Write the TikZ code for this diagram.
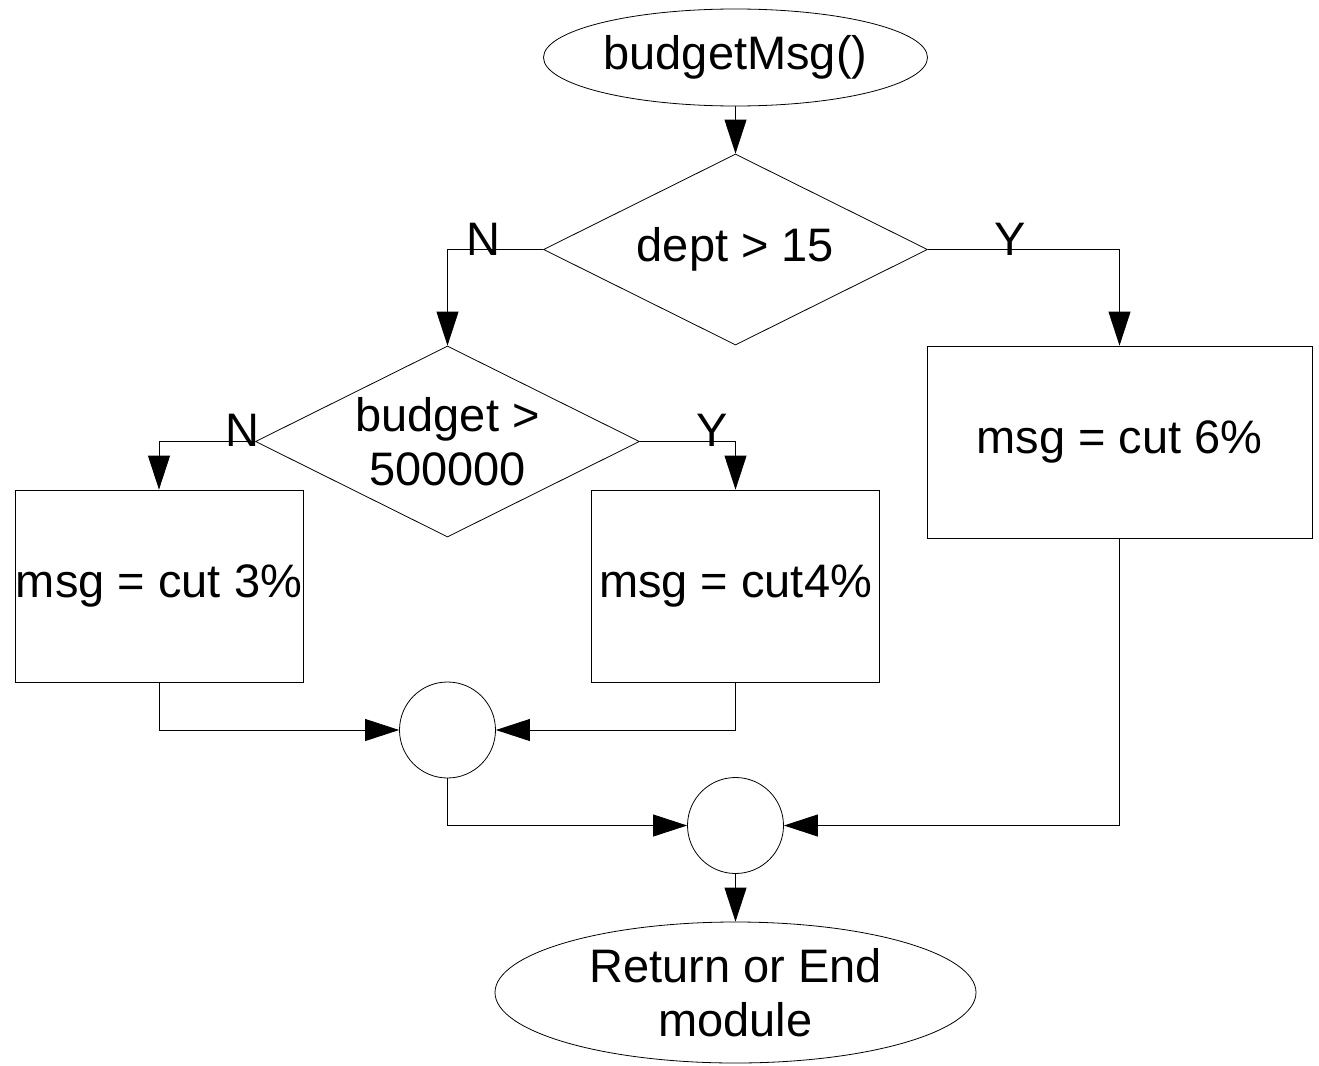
\documentclass[tikz,border=0pt]{standalone}
\usepackage{fontspec}
\setmainfont{Liberation Sans}
\usepackage{tikz}
\usetikzlibrary{arrows.meta,shapes}
\tikzstyle{terminal}=[ellipse,draw,line width=0.8pt,inner sep=0pt,align=center]
\tikzstyle{decision}=[diamond,draw,line width=0.8pt,aspect=2,minimum width=384pt,minimum height=191pt,inner sep=0pt,align=center]
\tikzstyle{process}=[rectangle,draw,line width=0.8pt,minimum width=288pt,minimum height=192pt,inner sep=0pt]
\tikzstyle{connector}=[circle,draw,line width=0.8pt,minimum size=96pt,inner sep=0pt]
\tikzstyle{branch}=[inner sep=0pt,anchor=base]
\tikzstyle{flow} = [draw,line width=0.8pt,-{Triangle[length=34pt,width=22pt]}]

\begin{document}
\begin{tikzpicture}[x=1pt,y=-1pt,font=\fontsize{47}{54}\selectfont]
    \useasboundingbox (0,0) rectangle (1319,1065);
    % First the start and the end of the module
    \node[terminal,minimum width=384pt,minimum height=97pt] (start) at (735.5,57.5) {budgetMsg()};
    \node[terminal,minimum width=481pt,minimum height=141pt] (stop) at (735.5,992.5) {Return or End\\module};
    % the two tests
    \node[decision] (dept) at (735.5,249.5) {dept > 15};
    \node[decision] (budget) at (447.5,441.5) {budget >\\500000};
    % the three messages
    \foreach \pos/\name/\txt in {{(159,586)/cut3/msg = cut 3\%}, {(735.5,586)/cut4/msg = cut4\%}}
        \node[process] (\name) at \pos {\txt};
    \node[process,minimum width=385pt] (cut6) at (1119.5,442) {msg = cut 6\%};
    % the connector circles
    \foreach \pos/\name in {{(447.5,730)/joinA}, {(735.5,825.5)/joinB}}
        \node[connector] (\name) at \pos {};
    % Y and N labels
    \foreach \pos/\name/\txt in {{(483.5,255)/deptN/N}, {(1010.5,255)/deptY/Y}, {(242.5,446)/budgetN/N}, {(712.5,446)/budgetY/Y}}
        \node[branch] (\name) at \pos {\txt};
    % Connect everything with arrows
    \path[flow] (start) -- (dept);
    \path[flow] (dept.west) -| (budget.north);
    \path[flow] (dept.east) -| (cut6.north);
    \path[flow] (budget.west) -| (cut3.north);
    \path[flow] (budget.east) -| (cut4.north);
    \path[flow] (cut3.south) |- (joinA.west);
    \path[flow] (cut4.south) |- (joinA.east);
    \path[flow] (joinA.south) |- (joinB.west);
    \path[flow] (cut6.south) |- (joinB.east);
    \path[flow] (joinB) -- (stop);
\end{tikzpicture}
\end{document}
